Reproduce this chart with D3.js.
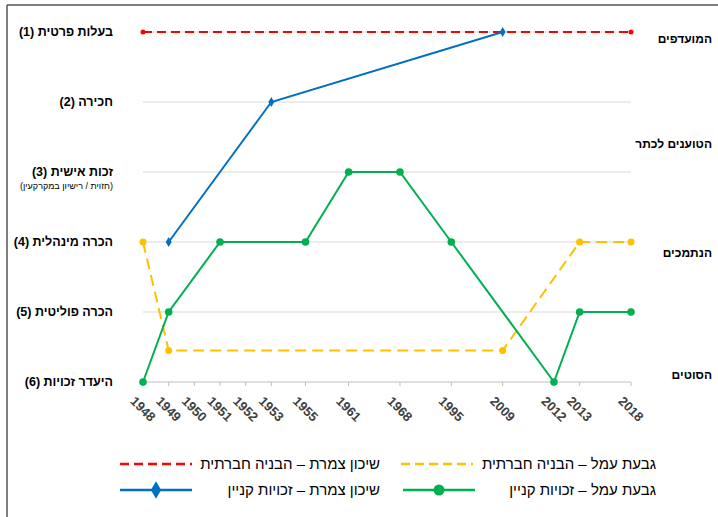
<!DOCTYPE html>
<html>
<head>
<meta charset="utf-8">
<title>Chart</title>
<script src="https://cdnjs.cloudflare.com/ajax/libs/d3/7.8.5/d3.min.js"></script>
<style>
body { margin: 0; background: #fff; }
svg text { font-family: "Liberation Sans", Arial, sans-serif; }
.grid line { stroke: #d9d9d9; stroke-width: 1; }
</style>
</head>
<body>
<svg id="chart" width="718" height="517"></svg>
<script>
// x categories (years)
var years = ['1948','1949','1950','1951','1952','1953','1955','1961','1968','1995','2009','2012','2013','2018'];
// y levels
var levelLabels = ['בעלות פרטית (1)', 'חכירה (2)', 'זכות אישית (3)', 'הכרה מינהלית (4)', 'הכרה פוליטית (5)', 'היעדר זכויות (6)'];
var groupLabels = ['המועדפים', 'הטוענים לכתר', 'הנתמכים', 'הסוטים'];
var groupLevels = [1.1, 2.6, 4.15, 5.9];

// series
var redYears = ['1948', '2018'];
var redValues = [1, 1];
var blueYears = ['1949', '1953', '2009'];
var blueValues = [4, 2, 1];
var yellowYears = ['1948', '1949', '2009', '2013', '2018'];
var yellowValues = [4, 5.55, 5.55, 4, 4];
var greenYears = ['1948', '1949', '1951', '1955', '1961', '1968', '1995', '2012', '2013', '2018'];
var greenValues = [6, 5, 4, 4, 3, 3, 4, 6, 5, 5];

var legendNames = ['שיכון צמרת – הבניה חברתית', 'שיכון צמרת – זכויות קניין', 'גבעת עמל – הבניה חברתית', 'גבעת עמל – זכויות קניין'];

// uneven spacing of the category axis (as in the source chart)
var gaps = [0, 1, 1, 1, 1, 1, 1.33, 1.68, 2, 2, 2, 2, 1, 2];
var cum = [];
gaps.reduce(function(a, g, i) { cum[i] = a + g; return a + g; }, 0);

var svg = d3.select('#chart');

var xs = d3.scaleLinear().domain([0, cum[cum.length - 1]]).range([143, 631]);
function x(year) { return xs(cum[years.indexOf(year)]); }
var y = d3.scaleLinear().domain([1, 6]).range([32, 382]);

// frame
svg.append('line').attr('x1', 7).attr('x2', 718).attr('y1', 5).attr('y2', 5).attr('stroke', '#555').attr('stroke-width', 1.5);
svg.append('line').attr('x1', 7).attr('x2', 7).attr('y1', 5).attr('y2', 517).attr('stroke', '#555').attr('stroke-width', 1.5);

// gridlines
svg.append('g').attr('class', 'grid')
  .selectAll('line').data([1, 2, 3, 4, 5]).enter().append('line')
  .attr('x1', 143).attr('x2', 631)
  .attr('y1', function(d) { return y(d); }).attr('y2', function(d) { return y(d); });

// x axis
var axis = svg.append('g').attr('transform', 'translate(0,' + y(6) + ')');
axis.append('line').attr('x1', 143).attr('x2', 631).attr('stroke', '#bfbfbf');
axis.selectAll('.tk').data(years).enter().append('line')
  .attr('x1', function(d) { return x(d); }).attr('x2', function(d) { return x(d); })
  .attr('y1', 0).attr('y2', 4).attr('stroke', '#bfbfbf');
axis.selectAll('text').data(years).enter().append('text')
  .attr('transform', function(d) { return 'translate(' + x(d) + ',27) rotate(45)'; })
  .attr('text-anchor', 'middle').attr('dy', '0.35em')
  .attr('font-size', 13).attr('font-weight', 'bold').attr('fill', '#404040')
  .text(function(d) { return d; });

// left labels
svg.selectAll('.lvl').data(levelLabels).enter().append('text')
  .attr('class', 'lvl')
  .attr('x', 113).attr('y', function(d, i) { return y(i + 1); })
  .attr('dy', '0.35em')
  .attr('direction', 'rtl').attr('text-anchor', 'start')
  .attr('font-size', 12.5).attr('font-weight', 'bold').attr('fill', '#000')
  .text(function(d) { return d; });
svg.append('text')
  .attr('x', 113).attr('y', y(3) + 17)
  .attr('direction', 'rtl').attr('text-anchor', 'start')
  .attr('font-size', 9).attr('fill', '#000')
  .text('(חזוית / רישיון במקרקעין)');

// right labels
svg.selectAll('.grp').data(groupLabels).enter().append('text')
  .attr('x', 712).attr('y', function(d, i) { return y(groupLevels[i]); })
  .attr('dy', '0.35em')
  .attr('direction', 'rtl').attr('text-anchor', 'start')
  .attr('font-size', 12).attr('font-weight', 'bold').attr('fill', '#000')
  .text(function(d) { return d; });

// lines
function drawSeries(ys, vs, color, width, dash) {
  var pts = ys.map(function(d, i) { return [x(d), y(vs[i])]; });
  svg.append('path').datum(pts)
    .attr('d', d3.line())
    .attr('fill', 'none').attr('stroke', color).attr('stroke-width', width)
    .attr('stroke-dasharray', dash || null);
  return pts;
}

var redPts = drawSeries(redYears, redValues, '#ff0000', 2, '9,5');
svg.selectAll('.rdot').data(redPts).enter().append('circle')
  .attr('cx', function(d) { return d[0]; }).attr('cy', function(d) { return d[1]; })
  .attr('r', 2.5).attr('fill', '#ff0000');

var yelPts = drawSeries(yellowYears, yellowValues, '#ffc000', 2, '11,6');
svg.selectAll('.ydot').data(yelPts).enter().append('circle')
  .attr('cx', function(d) { return d[0]; }).attr('cy', function(d) { return d[1]; })
  .attr('r', 3.5).attr('fill', '#ffc000');

var bluePts = drawSeries(blueYears, blueValues, '#0070c0', 2);
svg.selectAll('.bdot').data(bluePts).enter().append('path')
  .attr('d', d3.symbol().type(d3.symbolDiamond).size(30))
  .attr('transform', function(d) { return 'translate(' + d[0] + ',' + d[1] + ')'; })
  .attr('fill', '#0070c0');

var grnPts = drawSeries(greenYears, greenValues, '#00b050', 2);
svg.selectAll('.gdot').data(grnPts).enter().append('circle')
  .attr('cx', function(d) { return d[0]; }).attr('cy', function(d) { return d[1]; })
  .attr('r', 3.8).attr('fill', '#00b050');

// legend
var leg = [
  {x: 120, tx: 380, y: 464, color: '#ff0000', dash: '9,5', mark: null},
  {x: 120, tx: 380, y: 490, color: '#0070c0', dash: null, mark: 'diamond'},
  {x: 401, tx: 656, y: 464, color: '#ffc000', dash: '9,5', mark: null},
  {x: 403, tx: 656, y: 490, color: '#00b050', dash: null, mark: 'circle'}
];
leg.forEach(function(l, i) {
  svg.append('line').attr('x1', l.x).attr('x2', l.x + 72).attr('y1', l.y).attr('y2', l.y)
    .attr('stroke', l.color).attr('stroke-width', 2.5).attr('stroke-dasharray', l.dash);
  if (l.mark === 'diamond') {
    svg.append('path').attr('d', d3.symbol().type(d3.symbolDiamond).size(90))
      .attr('transform', 'translate(' + (l.x + 36) + ',' + l.y + ')').attr('fill', l.color);
  } else if (l.mark === 'circle') {
    svg.append('circle').attr('cx', l.x + 36).attr('cy', l.y).attr('r', 5.5).attr('fill', l.color);
  }
  svg.append('text').attr('x', l.tx).attr('y', l.y).attr('dy', '0.35em')
    .attr('direction', 'rtl').attr('text-anchor', 'start')
    .attr('font-size', 15).attr('fill', '#000')
    .text(legendNames[i]);
});
</script>
</body>
</html>
